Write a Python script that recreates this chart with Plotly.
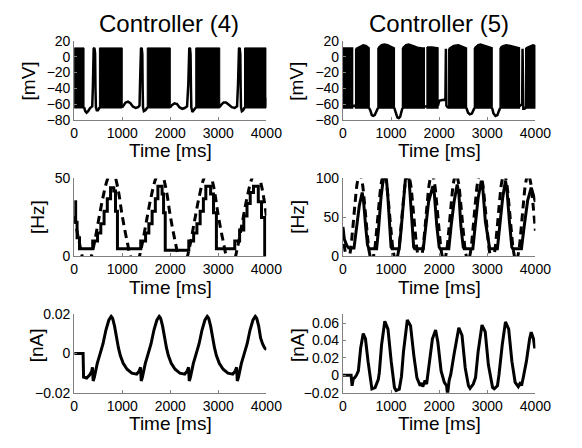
import plotly.graph_objects as go

# ---------------- DATA ----------------
titles = ["Controller (4)", "Controller (5)"]
time_ticks = [0, 1000, 2000, 3000, 4000]

# Membrane potential, Controller (4): bursts (dense spiking bands) + between-burst trace
v4_burst_start = [0, 525, 1520, 2530, 3545]
v4_burst_end = [205, 1000, 2000, 3030, 4000]
v4_burst_top = [11, 11, 11, 11, 11]
v4_burst_bottom = [-65, -65, -65, -65, -65]
v4_t = [205, 230, 257, 290, 330, 375, 388, 395, 405, 420, 435, 443, 452, 470, 495, 515, 527, None,
        1000, 1030, 1070, 1120, 1170, 1220, 1280, 1330, 1360, 1370, 1378, 1390, 1405, 1418, 1425, 1432, 1450, 1480, 1505, 1520, None,
        2000, 2040, 2090, 2140, 2190, 2250, 2300, 2350, 2375, 2383, 2395, 2410, 2422, 2430, 2438, 2460, 2490, 2515, 2534, None,
        3030, 3060, 3110, 3160, 3220, 3280, 3340, 3390, 3410, 3418, 3430, 3445, 3458, 3465, 3472, 3490, 3515, 3535, 3545, None,
        3980, 3990, 4000]
v4_v = [-64, -69, -71, -69, -65, -63, -40, 2, 10, 11, 4, -40, -64, -68, -68, -66, -64, None,
        -64, -62, -58, -57, -59, -63, -65, -64, -62, -35, 3, 10, 11, 3, -40, -64, -69, -68, -66, -64, None,
        -64, -61, -59, -60, -64, -66, -65, -63, -35, 3, 10, 11, 3, -40, -64, -70, -68, -66, -64, None,
        -64, -61, -58, -58, -61, -64, -65, -63, -35, 3, 10, 11, 3, -40, -64, -69, -68, -66, -64, None,
        -64, -60, -52]

# Membrane potential, Controller (5): bursts with their upper envelope
v5_burst_top_t = [[0, 200],
                  [265, 300, 350, 420, 480, 520, 544],
                  [728, 760, 800, 860, 930, 1000, 1040, 1068],
                  [1238, 1270, 1310, 1370, 1450, 1550, 1650, 1690],
                  [1748, 1850, 1975],
                  [2200, 2240, 2300, 2400, 2500, 2540, 2567],
                  [2733, 2770, 2810, 2860, 2950, 3030, 3070, 3100],
                  [3267, 3300, 3340, 3400, 3480, 3580, 3640, 3667],
                  [3800, 3840, 3880, 3950, 4000]]
v5_burst_top_v = [[11, 11],
                  [10, 11, 13, 15, 14, 12, 11],
                  [11, 13, 15, 16, 15, 13, 12, 11],
                  [11, 13, 15, 16, 14, 12, 11, 11],
                  [12, 12, 11],
                  [10, 12, 14, 15, 13, 12, 11],
                  [11, 13, 15, 16, 14, 12, 11, 11],
                  [11, 13, 14, 15, 14, 12, 11, 11],
                  [11, 12, 14, 15, 14]]
v5_burst_bottom = -65
v5_t = [195, 205, 230, 255, 268, None,
        544, 570, 600, 630, 660, 690, 728, None,
        1068, 1100, 1130, 1160, 1190, 1215, 1238, None,
        1690, 1700, 1720, 1740, 1750, None,
        1975, 2000, 2060, 2110, 2130, 2140, 2150, 2175, 2200, None,
        2567, 2600, 2640, 2680, 2710, 2733, None,
        3100, 3130, 3170, 3210, 3240, 3267, None,
        3667, 3690, 3715, 3725, 3733, 3742, 3750, 3775, 3800]
v5_v = [-64, -62, -62, -62, -64, None,
        -65, -68, -74, -75, -74, -69, -65, None,
        -65, -72, -77, -78, -76, -70, -65, None,
        -64, -63, -63, -63, -64, None,
        -62, -56, -55, -55, -52, 10, -62, -64, -64, None,
        -65, -71, -73, -72, -68, -65, None,
        -65, -72, -75, -74, -69, -65, None,
        -63, -62, -61, -60, 10, -62, -66, -66, -64]

# Firing rate, Controller (4): measured (step) and target (dashed)
r4_t = [0, 30, 60, 110, 385, 486, 554, 622, 689, 757, 824, 860, 900,
        1385, 1486, 1554, 1622, 1689, 1742, 1830, 1860, 1895,
        2385, 2486, 2554, 2622, 2689, 2740, 2840, 2900, 2960,
        3342, 3443, 3530, 3597, 3664, 3732, 3832, 3899, 3966]
r4_v = [35, 22, 12, 5, 10, 15, 21, 29, 37, 44, 42, 29, 5,
        10, 15, 21, 29, 37, 45, 40, 28, 4,
        10, 15, 21, 29, 37, 45, 40, 28, 5,
        10, 17, 26, 34, 41, 45, 35, 25, 0]
r4_target_t = list(range(0, 4001, 100))
r4_target_v = [26, 10, -2, -4, 6, 22, 38, 50, 55, 45,
               26, 10, -2, -4, 6, 22, 38, 50, 55, 45,
               26, 10, -2, -4, 6, 22, 38, 50, 55, 45,
               26, 10, -2, -4, 6, 22, 38, 50, 55, 45, 26]

# Firing rate, Controller (5)
r5_t = [0, 30, 80, 120, 230, 260, 300, 340, 400, 430, 470, 510, 540,
        700, 740, 790, 840, 900, 930, 970, 1000, 1020,
        1170, 1210, 1260, 1300, 1370, 1400, 1440, 1470, 1490,
        1670, 1720, 1780, 1870, 1900, 1950, 2000, 2020,
        2200, 2250, 2310, 2375, 2410, 2450, 2500, 2520,
        2700, 2750, 2810, 2876, 2910, 2960, 3030, 3050,
        3210, 3260, 3320, 3378, 3410, 3460, 3510, 3530,
        3710, 3770, 3840, 3913, 3950, 4000]
r5_v = [38, 22, 14, 11, 11, 25, 45, 65, 82, 70, 40, 15, 10,
        10, 35, 75, 100, 102, 80, 40, 12, 10,
        10, 35, 75, 100, 102, 80, 40, 12, 10,
        10, 40, 70, 90, 80, 40, 12, 10,
        10, 40, 70, 92, 80, 40, 12, 10,
        10, 40, 75, 97, 85, 45, 12, 10,
        10, 40, 75, 97, 85, 45, 12, 10,
        10, 40, 72, 88, 80, 70]
r5_target_t = list(range(0, 4001, 50))
r5_target_v = [33, 5, -6, 5, 33, 67, 95, 106, 95, 67,
               33, 5, -6, 5, 33, 67, 95, 106, 95, 67,
               33, 5, -6, 5, 33, 67, 95, 106, 95, 67,
               33, 5, -6, 5, 33, 67, 95, 106, 95, 67,
               33, 5, -6, 5, 33, 67, 95, 106, 95, 67,
               33, 5, -6, 5, 33, 67, 95, 106, 95, 67,
               33, 5, -6, 5, 33, 67, 95, 106, 95, 67,
               33, 5, -6, 5, 33, 67, 95, 106, 95, 67, 33]

# Control current, Controller (4)
i4_t = [0, 185, 195, 260, 320, 365, 380, 395, 420, 480, 540, 600, 660, 720, 770, 800, 840, 880, 920, 960,
        1020, 1100, 1200, 1300, 1350, 1380, 1395, 1420, 1480, 1540, 1600, 1660, 1720, 1770, 1800, 1840, 1880, 1920, 1960,
        2020, 2100, 2200, 2300, 2350, 2380, 2395, 2420, 2480, 2540, 2600, 2660, 2720, 2770, 2800, 2840, 2880, 2920, 2960,
        3020, 3100, 3200, 3300, 3350, 3380, 3395, 3420, 3480, 3540, 3600, 3660, 3720, 3770, 3800, 3840, 3880, 3920, 3960, 4000]
i4_v = [0, 0, -0.012, -0.0125, -0.011, -0.009, -0.007, -0.014, -0.012, -0.005, 0.0, 0.005, 0.012, 0.017, 0.019, 0.018, 0.014, 0.008, 0.003, -0.001,
        -0.005, -0.008, -0.010, -0.0105, -0.009, -0.007, -0.014, -0.012, -0.005, 0.0, 0.005, 0.012, 0.017, 0.019, 0.018, 0.014, 0.008, 0.003, -0.001,
        -0.005, -0.008, -0.010, -0.0105, -0.009, -0.007, -0.014, -0.012, -0.005, 0.0, 0.005, 0.012, 0.017, 0.019, 0.018, 0.014, 0.008, 0.003, -0.001,
        -0.005, -0.008, -0.010, -0.0105, -0.009, -0.007, -0.014, -0.012, -0.005, 0.0, 0.005, 0.012, 0.017, 0.019, 0.018, 0.014, 0.008, 0.005, 0.003, 0.002]

# Control current, Controller (5)
i5_t = [0, 170, 190, 200, 215, 240, 280, 321, 368, 421, 468, 522, 569, 602, 669, 736, 756, 803, 870, 936,
        1003, 1070, 1104, 1171, 1217, 1258, 1338, 1405, 1472, 1538, 1605, 1639, 1659, 1706, 1739, 1806, 1860, 1926, 1973,
        2040, 2107, 2154, 2174, 2207, 2241, 2308, 2408, 2475, 2542, 2609, 2642, 2709, 2756, 2809, 2890, 2957,
        3023, 3110, 3144, 3211, 3244, 3311, 3378, 3445, 3512, 3579, 3645, 3692, 3712, 3746, 3813, 3880, 3913, 3960, 3987, 4000]
i5_v = [0, 0, -0.012, -0.006, -0.004, -0.003, 0.0, 0.005, 0.031, 0.048, 0.042, 0.016, -0.006, -0.0155, -0.014, -0.0045, 0.003, 0.035, 0.062, 0.053,
        0.016, -0.014, -0.0175, -0.016, -0.001, 0.027, 0.0635, 0.057, 0.0235, -0.003, -0.012, -0.009, -0.013, -0.006, -0.010, 0.016, 0.042, 0.052, 0.038,
        0.005, -0.008, -0.012, -0.022, -0.006, 0.001, 0.0235, 0.0545, 0.046, 0.0085, -0.012, -0.015, -0.010, -0.0026, 0.027, 0.0577, 0.050,
        0.012, -0.014, -0.0155, -0.012, 0.001, 0.035, 0.0614, 0.053, 0.016, -0.008, -0.013, -0.008, -0.012, -0.003, 0.016, 0.042, 0.0495, 0.042, 0.031, 0.035]

# ---------------- FIGURE ----------------
FONT = "Liberation Sans, Arial, sans-serif"
BLACK = "#000000"
fig = go.Figure()


def band_polygons(starts, ends, tops, bottoms):
    xs, ys = [], []
    for s, e, tp, bt in zip(starts, ends, tops, bottoms):
        xs += [s, e, e, s, s, None]
        ys += [tp, tp, bt, bt, tp, None]
    return xs, ys


bx, by = band_polygons(v4_burst_start, v4_burst_end, v4_burst_top, v4_burst_bottom)
fig.add_trace(go.Scatter(x=bx, y=by, fill="toself", fillcolor=BLACK, mode="lines",
                         line=dict(color=BLACK, width=1), xaxis="x", yaxis="y"))
fig.add_trace(go.Scatter(x=v4_t, y=v4_v, mode="lines", line=dict(color=BLACK, width=2.5),
                         xaxis="x", yaxis="y"))

bx5, by5 = [], []
for tt, vv in zip(v5_burst_top_t, v5_burst_top_v):
    bx5 += tt + [tt[-1], tt[0], tt[0], None]
    by5 += vv + [v5_burst_bottom, v5_burst_bottom, vv[0], None]
fig.add_trace(go.Scatter(x=bx5, y=by5, fill="toself", fillcolor=BLACK, mode="lines",
                         line=dict(color=BLACK, width=1.5), xaxis="x2", yaxis="y2"))
fig.add_trace(go.Scatter(x=v5_t, y=v5_v, mode="lines", line=dict(color=BLACK, width=2.5),
                         xaxis="x2", yaxis="y2"))

fig.add_trace(go.Scatter(x=r4_target_t, y=r4_target_v, mode="lines", line_shape="spline",
                         line=dict(color=BLACK, width=3, dash="8px,5px"), xaxis="x3", yaxis="y3"))
fig.add_trace(go.Scatter(x=r4_t, y=r4_v, mode="lines", line_shape="hv",
                         line=dict(color=BLACK, width=3), xaxis="x3", yaxis="y3"))

fig.add_trace(go.Scatter(x=r5_target_t, y=r5_target_v, mode="lines", line_shape="spline",
                         line=dict(color=BLACK, width=3, dash="8px,5px"), xaxis="x4", yaxis="y4"))
fig.add_trace(go.Scatter(x=r5_t, y=r5_v, mode="lines",
                         line=dict(color=BLACK, width=3), xaxis="x4", yaxis="y4"))

fig.add_trace(go.Scatter(x=i4_t, y=i4_v, mode="lines", line=dict(color=BLACK, width=3),
                         xaxis="x5", yaxis="y5"))
fig.add_trace(go.Scatter(x=i5_t, y=i5_v, mode="lines", line=dict(color=BLACK, width=3),
                         xaxis="x6", yaxis="y6"))

W, H = 582, 448
col_x = [(72.7 / W, 271.7 / W), (351 / W, 550.3 / W)]
row_y = [(1 - 116 / H, 1 - 34 / H), (1 - 257.7 / H, 1 - 176.7 / H), (1 - 399 / H, 1 - 317.7 / H)]

axis_common = dict(showline=True, linecolor="#808080", linewidth=1, ticks="inside", ticklen=3,
                   tickcolor="#808080", showgrid=False, zeroline=False, mirror=False,
                   tickfont=dict(family=FONT, size=14, color=BLACK))

yranges = [[-80, 20], [-80, 20], [0, 50], [0, 100], [-0.02, 0.02], [-0.02, 0.07]]
yticks = [[-80, -60, -40, -20, 0, 20], [-80, -60, -40, -20, 0, 20], [0, 50], [0, 50, 100],
          [-0.02, 0, 0.02], [-0.02, 0, 0.02, 0.04, 0.06]]
ylabels = ["[mV]", "[mV]", "[Hz]", "[Hz]", "[nA]", "[nA]"]

layout = dict(width=W, height=H, margin=dict(l=0, r=0, t=0, b=0), autosize=False,
              paper_bgcolor="white", plot_bgcolor="white", showlegend=False)
annotations = []
for k in range(6):
    r, c = divmod(k, 2)
    sfx = "" if k == 0 else str(k + 1)
    layout["xaxis" + sfx] = dict(axis_common, domain=list(col_x[c]), range=[0, 4000],
                                 tickvals=time_ticks, anchor="y" + sfx)
    layout["yaxis" + sfx] = dict(axis_common, domain=list(row_y[r]), range=yranges[k],
                                 tickvals=yticks[k], anchor="x" + sfx)
    xc = (col_x[c][0] + col_x[c][1]) / 2
    annotations.append(dict(text="Time [ms]", x=xc, y=row_y[r][0] - 32 / H, xref="paper", yref="paper",
                            showarrow=False, xanchor="center", yanchor="middle",
                            font=dict(family=FONT, size=19, color=BLACK)))
    ylab_x = [25 / W, 303 / W][c] if r == 0 else [34 / W, 304 / W][c]
    ylab_y = [76, 217, 350][r]
    annotations.append(dict(text=ylabels[k], x=ylab_x, y=1 - ylab_y / H, xref="paper", yref="paper",
                            showarrow=False, textangle=-90, xanchor="center", yanchor="middle",
                            font=dict(family=FONT, size=19, color=BLACK)))

for c in range(2):
    annotations.append(dict(text=titles[c], x=[171 / W, 450 / W][c], y=1 - 16 / H, xref="paper", yref="paper",
                            showarrow=False, xanchor="center", yanchor="middle",
                            font=dict(family=FONT, size=24, color=BLACK)))
layout["annotations"] = annotations
fig.update_layout(**layout)
fig.write_html("out.html", config={"displayModeBar": False},
               post_script="document.body.style.margin='0';document.body.style.overflow='hidden';")
